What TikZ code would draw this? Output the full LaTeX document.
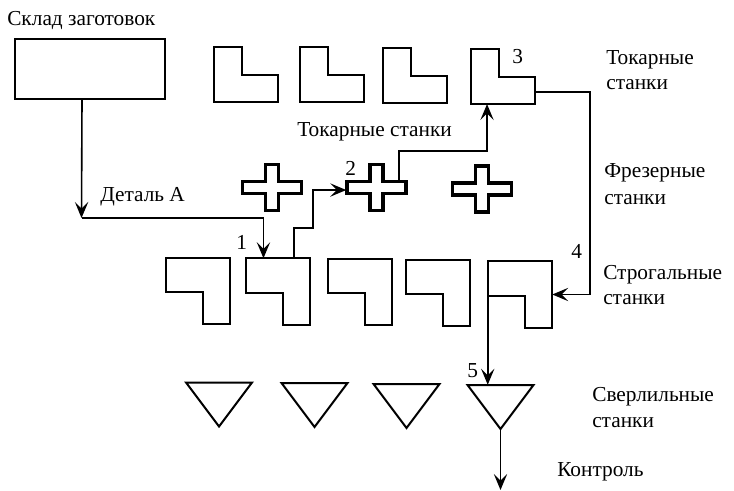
\documentclass[tikz,border=0pt]{standalone}
\usepackage{fontspec}
\setmainfont{Liberation Serif}
\usepackage{tikz}
\usetikzlibrary{arrows.meta,positioning,calc}
\tikzset{
  >={Stealth[length=12pt,width=10pt,inset=5pt]},
  link/.style={line width=1.2pt},
  machine/.style={line width=1.5pt, line join=miter},
  millline/.style={line width=2.7pt, line join=miter},
  store/.style={draw, line width=1.5pt, minimum width=113pt, minimum height=45pt, inner sep=0pt},
  lathebox/.style={minimum width=48pt, minimum height=41pt, inner sep=0pt},
  millbox/.style={minimum width=45pt, minimum height=35pt, inner sep=0pt},
  planebox/.style={minimum width=48pt, minimum height=49.5pt, inner sep=0pt},
  drillbox/.style={minimum width=49.5pt, minimum height=33pt, inner sep=0pt},
  lbl/.style={anchor=base west, inner sep=0pt, font=\fontsize{16}{19.5}\selectfont, align=left},
}
\begin{document}
\begin{tikzpicture}[x=0.75pt,y=-0.75pt]
  \useasboundingbox (0,0) rectangle (734,491);

  \node[store] (stock) at (90,69) {};
  \node[lbl] (stocklbl) at (7,26) {Склад заготовок};

  % lathes
  \foreach \nm/\px/\py in {la1/245.5/75, la2/331.5/75, la3/415/76, la4/502.5/76.5}{
    \node[lathebox] (\nm) at (\px,\py) {};
    \draw[machine,shift={(\px,\py)}] (-32,-27.5) -- (-4,-27.5) -- (-4,0.5) -- (32,0.5)
      -- (32,27.5) -- (-32,27.5) -- cycle;
  }
  % mills
  \foreach \nm/\px/\py in {mi1/272/187.5, mi2/376.5/187.5, mi3/482/189}{
    \node[millbox] (\nm) at (\px,\py) {};
    \draw[millline,shift={(\px,\py)}] (-6.5,-23) -- (6.5,-23) -- (6.5,-6) -- (29.5,-6)
      -- (29.5,6) -- (6.5,6) -- (6.5,23) -- (-6.5,23) -- (-6.5,6) -- (-29.5,6)
      -- (-29.5,-6) -- (-6.5,-6) -- cycle;
  }
  % planers
  \foreach \nm/\px/\py in {pl1/198/291, pl2/278/291.5, pl3/359.5/292, pl4/437.5/293, pl5/520/294.5}{
    \node[planebox] (\nm) at (\px,\py) {};
    \draw[machine,shift={(\px,\py)}] (-32,-33) -- (32,-33) -- (32,33) -- (5,33)
      -- (5,1) -- (-32,1) -- cycle;
  }
  % drills
  \foreach \nm/\px/\py in {dr1/219/404.5, dr2/314.5/405, dr3/406.5/406, dr4/500.5/407}{
    \node[drillbox] (\nm) at (\px,\py) {};
    \draw[machine,shift={(\px,\py)}] (-33,-22) -- (33,-22) -- (0,22) -- cycle;
  }

  \node[lbl] (detail) at (100,202) {Деталь А};
  \node[lbl] (route) at (297,137) {Токарные станки};
  \node[lbl] (latelbl) at (606,65) {Токарные};
  \node[lbl] (latelbl2) at (606,90) {станки};
  \node[lbl] (milllbl) at (604,178) {Фрезерные};
  \node[lbl] (milllbl2) at (604,205) {станки};
  \node[lbl] (planelbl) at (603,279) {Строгальные};
  \node[lbl] (planelbl2) at (603,305) {станки};
  \node[lbl] (drilllbl) at (592,401) {Сверлильные};
  \node[lbl] (drilllbl2) at (592,427) {станки};
  \node[lbl] (ctrl) at (557,476) {Контроль};
  \node[lbl] (n1) at (236,250) {1};
  \node[lbl] (n2) at (345,176) {2};
  \node[lbl] (n3) at (512,64) {3};
  \node[lbl] (n4) at (571,259) {4};
  \node[lbl] (n5) at (467,377) {5};

  \coordinate (bendA) at (81.5,218);
  \coordinate (bendB) at (313,228);
  \coordinate (bendC) at (487,151);
  \coordinate (bendD) at (590,294.5);
  \coordinate (exit) at (500.5,490);

  \draw[link,->] ([xshift=-6pt]stock.south) -- (bendA);
  \draw[link,->] (bendA) -| ([xshift=-10.9pt]pl2.north);
  \draw[link,->] ([xshift=12pt]pl2.north) |- (bendB) |- ([yshift=-1.9pt]mi2.west);
  \draw[link,->] ([shift={(16.9pt,5.6pt)}]mi2.center) |- (bendC) -- ([xshift=-11.6pt]la4.south);
  \draw[link,->] ([yshift=-11.6pt]la4.east) -| (bendD) -- (pl5.east);
  \draw[link,->] (pl5.west) -- (pl5.west |- dr4.north);
  \draw[link,->] (dr4.south) -- (exit);
\end{tikzpicture}
\end{document}
